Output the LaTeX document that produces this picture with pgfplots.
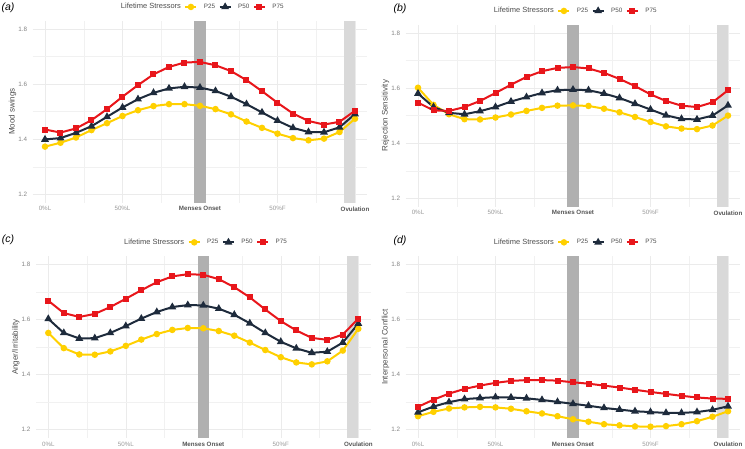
\documentclass[border=0pt]{standalone}
\usepackage{fontspec}
\setmainfont{Liberation Sans}
\setsansfont{Liberation Sans}
\usepackage{pgfplots}
\usepackage{pgfplotstable}
\pgfplotsset{compat=1.18}

\definecolor{p25col}{HTML}{FFD000}
\definecolor{p50col}{HTML}{1E2B3C}
\definecolor{p75col}{HTML}{E8161B}
\definecolor{mensbar}{HTML}{B0B0B0}
\definecolor{ovbar}{HTML}{D9D9D9}
\definecolor{gridcol}{HTML}{EBEBEB}
\definecolor{ticktxt}{HTML}{9A9A9A}
\definecolor{boldtxt}{HTML}{555555}
\definecolor{labtxt}{HTML}{4D4D4D}

% x: cycle position (0 = 0%L, 10 = menses onset, 20 = ovulation)
\pgfplotstableread{
x p25 p50 p75
0 1.373 1.399 1.435
1 1.387 1.404 1.424
2 1.406 1.423 1.439
3 1.433 1.447 1.469
4 1.458 1.481 1.509
5 1.484 1.515 1.554
6 1.505 1.545 1.596
7 1.520 1.568 1.635
8 1.527 1.584 1.662
9 1.527 1.590 1.678
10 1.521 1.587 1.680
11 1.509 1.575 1.668
12 1.490 1.554 1.647
13 1.464 1.527 1.614
14 1.441 1.497 1.574
15 1.420 1.467 1.532
16 1.404 1.441 1.493
17 1.396 1.426 1.466
18 1.402 1.425 1.453
19 1.426 1.443 1.463
20 1.474 1.491 1.503
}\moodtab

\pgfplotstableread{
x p25 p50 p75
0 1.601 1.580 1.547
1 1.539 1.531 1.519
2 1.505 1.510 1.517
3 1.487 1.505 1.531
4 1.486 1.516 1.553
5 1.493 1.531 1.582
6 1.504 1.551 1.612
7 1.517 1.567 1.640
8 1.528 1.582 1.661
9 1.536 1.592 1.673
10 1.537 1.594 1.676
11 1.535 1.592 1.671
12 1.525 1.580 1.655
13 1.512 1.564 1.633
14 1.495 1.543 1.607
15 1.477 1.522 1.577
16 1.461 1.501 1.553
17 1.453 1.488 1.536
18 1.451 1.486 1.531
19 1.464 1.500 1.548
20 1.500 1.537 1.592
}\rejtab

\pgfplotstableread{
x p25 p50 p75
0 1.551 1.602 1.668
1 1.496 1.551 1.623
2 1.473 1.531 1.609
3 1.472 1.532 1.620
4 1.484 1.551 1.645
5 1.504 1.576 1.675
6 1.527 1.603 1.706
7 1.547 1.627 1.735
8 1.562 1.645 1.756
9 1.569 1.652 1.764
10 1.568 1.651 1.762
11 1.558 1.639 1.746
12 1.541 1.617 1.717
13 1.516 1.586 1.680
14 1.489 1.551 1.636
15 1.463 1.519 1.594
16 1.444 1.495 1.560
17 1.437 1.479 1.533
18 1.448 1.483 1.526
19 1.487 1.516 1.545
20 1.566 1.585 1.603
}\angertab

\pgfplotstableread{
x p25 p50 p75
0 1.249 1.263 1.283
1 1.265 1.284 1.309
2 1.277 1.300 1.331
3 1.281 1.311 1.348
4 1.283 1.315 1.360
5 1.281 1.318 1.370
6 1.276 1.317 1.377
7 1.267 1.314 1.380
8 1.259 1.308 1.380
9 1.249 1.301 1.378
10 1.238 1.294 1.372
11 1.229 1.287 1.367
12 1.220 1.279 1.360
13 1.216 1.273 1.353
14 1.212 1.267 1.345
15 1.211 1.264 1.337
16 1.213 1.261 1.330
17 1.220 1.261 1.323
18 1.231 1.264 1.317
19 1.247 1.272 1.313
20 1.267 1.285 1.312
}\conflicttab

\pgfplotsset{
  panel/.style={
    scale only axis, width=334.8pt, height=182pt, anchor=south west,
    xmin=-0.8, xmax=20.8, ymin=1.17, ymax=1.83,
    axis line style={draw=none}, major tick length=0pt, minor tick length=0pt,
    xtick={0,5,10,15,20}, minor xtick={2.5,7.5,12.5,17.5},
    xticklabels={0\%L, 50\%L, \textcolor{boldtxt}{\bfseries Menses Onset}, 50\%F, \textcolor{boldtxt}{\bfseries Ovulation}},
    ytick={1.2,1.4,1.6,1.8}, minor ytick={1.3,1.5,1.7},
    grid=both,
    major grid style={gridcol, line width=0.5pt},
    minor grid style={gridcol!70, line width=0.35pt},
    /pgf/number format/assume math mode=true,
    yticklabel style={font=\fontsize{6.3}{7}\selectfont, text=ticktxt!85!black, xshift=-2pt,
      /pgf/number format/fixed, /pgf/number format/precision=1, /pgf/number format/fixed zerofill},
    xticklabel style={font=\fontsize{6.2}{7}\selectfont, text=ticktxt, yshift=-0.5pt},
    ylabel style={font=\fontsize{8}{9}\selectfont, text=labtxt, at={(axis description cs:-0.06,0.5)}, anchor=center},
    legend columns=-1,
    legend style={draw=none, fill=none, at={(0.5,1.075)}, anchor=center,
      font=\fontsize{6.3}{7}\selectfont, text=labtxt, inner sep=0pt,
      /tikz/every odd column/.append style={column sep=4.5pt},
      /tikz/every even column/.append style={column sep=1.5pt}},
    legend image code/.code={\draw[mark repeat=2,mark phase=2] plot coordinates {(0pt,0pt) (5.5pt,0pt) (11pt,0pt)};},
  },
  s25/.style={p25col, line width=2pt, mark=*, mark size=2.2pt, mark options={solid, fill=p25col}},
  s50/.style={p50col, line width=2pt, mark=triangle*, mark size=2.6pt, mark options={solid, fill=p50col}},
  s75/.style={p75col, line width=2pt, mark=square*, mark size=2.0pt, mark options={solid, fill=p75col}},
}

\newcommand{\phasebars}{%
  \addplot[fill=mensbar, draw=none, forget plot] coordinates {(9.63,1.17) (10.37,1.17) (10.37,1.83) (9.63,1.83)} -- cycle;
  \addplot[fill=ovbar, draw=none, forget plot] coordinates {(19.3,1.17) (19.97,1.17) (19.97,1.83) (19.3,1.83)} -- cycle;
}
\newcommand{\legtitle}{\fontsize{7.5}{8}\selectfont Lifetime Stressors}

\begin{document}
\begin{tikzpicture}
\path[use as bounding box] (0,0) rectangle (745pt,448pt);

\begin{axis}[panel, at={(32.6pt,245.4pt)}, ylabel={Mood swings}]
  \phasebars
  \addlegendimage{empty legend}
  \addplot[s25] table[x=x, y=p25] {\moodtab};
  \addplot[s50] table[x=x, y=p50] {\moodtab};
  \addplot[s75] table[x=x, y=p75] {\moodtab};
  \legend{\legtitle, P25, P50, P75}
\end{axis}

\begin{axis}[panel, at={(405.6pt,241.4pt)}, ylabel={Rejection Sensitivity}]
  \phasebars
  \addlegendimage{empty legend}
  \addplot[s25] table[x=x, y=p25] {\rejtab};
  \addplot[s50] table[x=x, y=p50] {\rejtab};
  \addplot[s75] table[x=x, y=p75] {\rejtab};
  \legend{\legtitle, P25, P50, P75}
\end{axis}

\begin{axis}[panel, at={(35.9pt,10pt)}, ylabel={Anger/Irritability}]
  \phasebars
  \addlegendimage{empty legend}
  \addplot[s25] table[x=x, y=p25] {\angertab};
  \addplot[s50] table[x=x, y=p50] {\angertab};
  \addplot[s75] table[x=x, y=p75] {\angertab};
  \legend{\legtitle, P25, P50, P75}
\end{axis}

\begin{axis}[panel, at={(405.6pt,10pt)}, ylabel={Interpersonal Conflict}]
  \phasebars
  \addlegendimage{empty legend}
  \addplot[s25] table[x=x, y=p25] {\conflicttab};
  \addplot[s50] table[x=x, y=p50] {\conflicttab};
  \addplot[s75] table[x=x, y=p75] {\conflicttab};
  \legend{\legtitle, P25, P50, P75}
\end{axis}

\node[font=\fontsize{10.5}{12}\selectfont\itshape] at (8pt,440pt) {(a)};
\node[font=\fontsize{10.5}{12}\selectfont\itshape] at (400pt,439pt) {(b)};
\node[font=\fontsize{10.5}{12}\selectfont\itshape] at (8pt,208pt) {(c)};
\node[font=\fontsize{10.5}{12}\selectfont\itshape] at (400pt,207pt) {(d)};
\end{tikzpicture}
\end{document}
